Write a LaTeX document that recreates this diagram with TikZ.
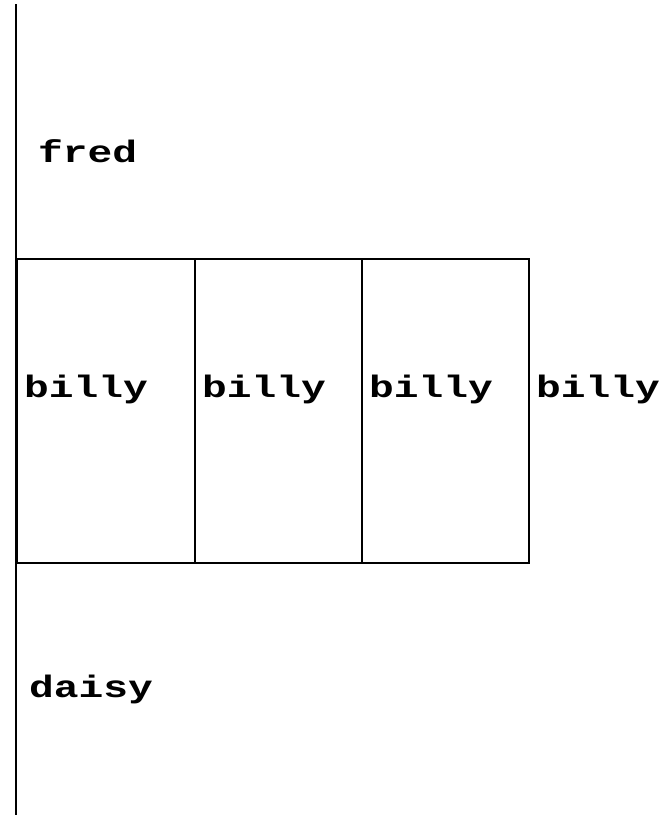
\documentclass[tikz,border=0pt]{standalone}
\usepackage{fontspec}
\newfontfamily\labfont[FakeStretch=1.33]{Liberation Mono Bold}
\begin{document}
\begin{tikzpicture}[x=1pt,y=-1pt,
  lab/.style={anchor=base west,inner sep=0pt,font=\labfont\fontsize{31}{31}\selectfont},
  cell/.style={draw,line width=1.6pt,anchor=north west,minimum width=#1,minimum height=304pt,inner sep=0pt}]
\useasboundingbox (0,0) rectangle (671,815);
\coordinate (top) at (16,4);
\coordinate (bot) at (16,815);
\draw[line width=1.6pt] (top) -- (bot);
\node[cell=178pt] (c1) at (16,258) {};
\node[cell=167pt] (c2) at (194,258) {};
\node[cell=167pt] (c3) at (361,258) {};
\node[lab] (fred) at (38,162) {fred};
\node[lab] (b1) at (24,397) {billy};
\node[lab] (b2) at (202,397) {billy};
\node[lab] (b3) at (369,397) {billy};
\node[lab] (b4) at (536,397) {billy};
\node[lab] (daisy) at (29,697) {daisy};
\end{tikzpicture}
\end{document}
